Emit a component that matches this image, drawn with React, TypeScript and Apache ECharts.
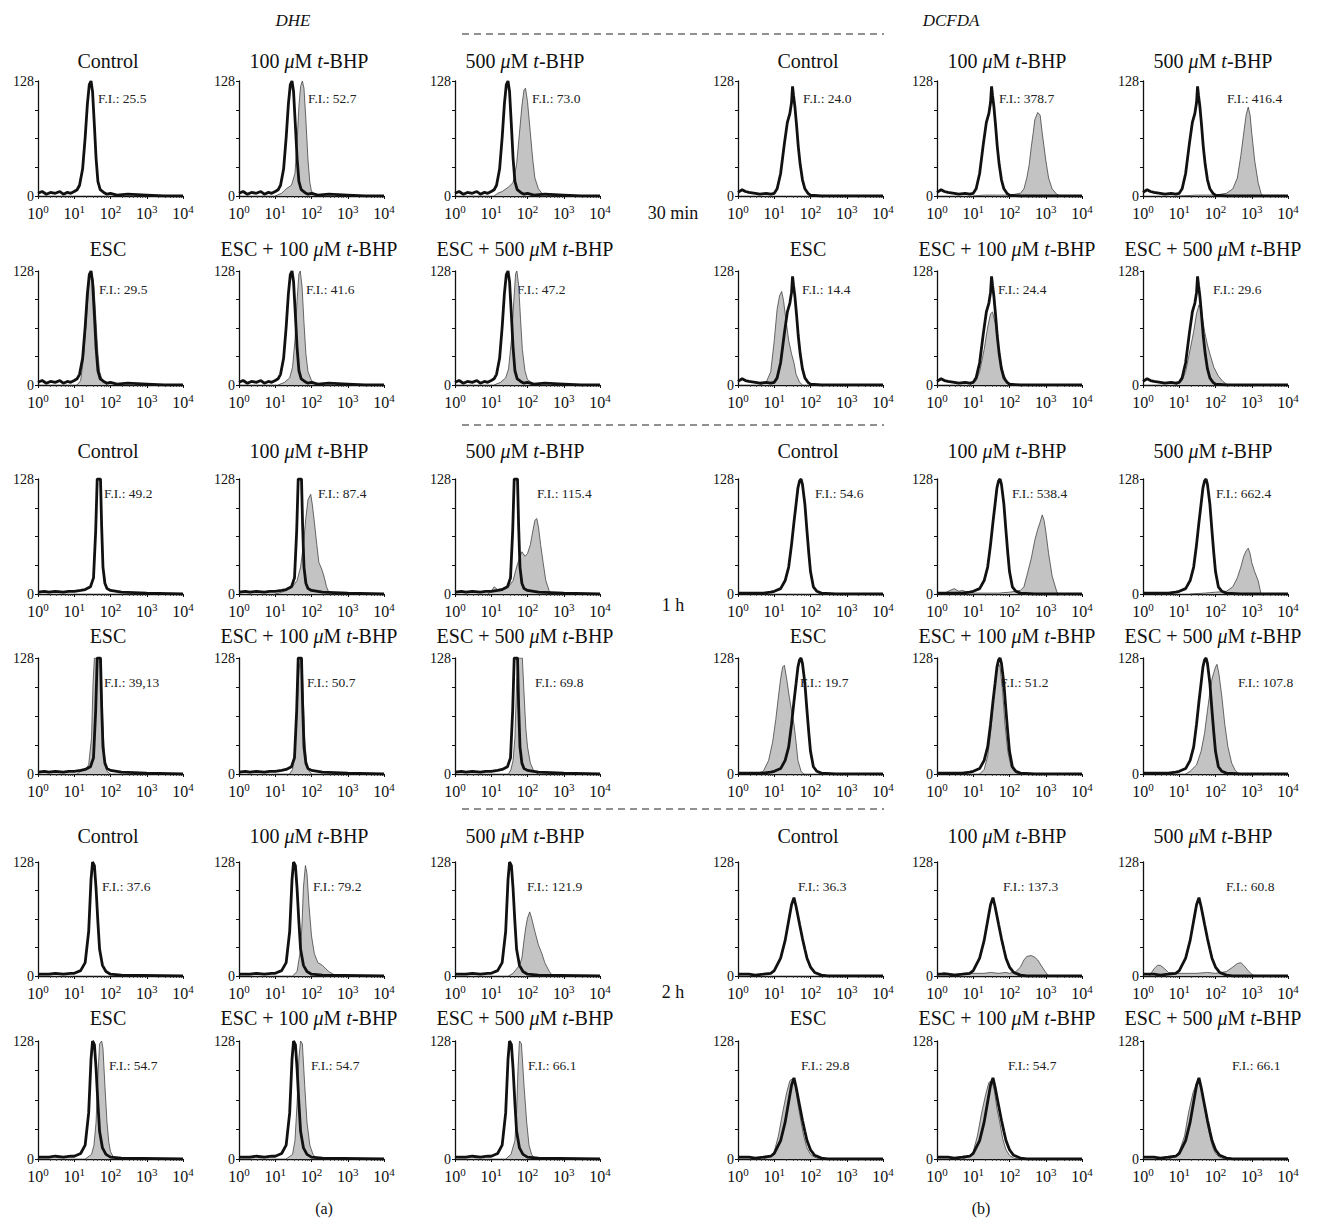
import React, { useEffect, useRef } from "react";
import * as echarts from "echarts";

// ---------- DATA ----------
const panelTitles = [
  "{n|Control}",
  "{n|100 }{i|μ}{n|M }{i|t}{n|-BHP}",
  "{n|500 }{i|μ}{n|M }{i|t}{n|-BHP}",
  "{n|ESC}",
  "{n|ESC + 100 }{i|μ}{n|M }{i|t}{n|-BHP}",
  "{n|ESC + 500 }{i|μ}{n|M }{i|t}{n|-BHP}",
];

const fiDHE30 = ["25.5", "52.7", "73.0", "29.5", "41.6", "47.2"];
const fiDCF30 = ["24.0", "378.7", "416.4", "14.4", "24.4", "29.6"];
const fiDHE1h = ["49.2", "87.4", "115.4", "39,13", "50.7", "69.8"];
const fiDCF1h = ["54.6", "538.4", "662.4", "19.7", "51.2", "107.8"];
const fiDHE2h = ["37.6", "79.2", "121.9", "54.7", "54.7", "66.1"];
const fiDCF2h = ["36.3", "137.3", "60.8", "29.8", "54.7", "66.1"];

// black (control) histograms: [fluorescence, count]
const ctrlDHE30 = [[1,3],[1.3,5],[1.7,2],[2.2,4],[3,3],[4,5],[5,2],[6.5,4],[8,3],[10,5],[12,7],[14,12],[17,30],[20,65],[23,102],[26,124],[29,128],[32,116],[36,78],[40,42],[45,16],[52,7],[65,4],[80,2],[100,3],[150,1],[300,2],[1000,1],[3000,0],[10000,0]];
const ctrlDCF30 = [[1,4],[1.3,7],[1.6,5],[2,4],[3,3],[4,2],[6,3],[8,2],[10,3],[12,8],[15,25],[19,58],[23,82],[27,92],[30,104],[32,122],[34,112],[37,100],[41,80],[46,55],[52,35],[60,18],[70,8],[85,3],[100,1],[200,0],[10000,0]];
const ctrlDHE1h = [[1,2],[1.5,3],[2,2],[3,3],[5,2],[7,3],[10,3],[15,4],[20,5],[28,8],[34,18],[39,70],[43,128],[53,128],[57,75],[62,30],[70,12],[80,6],[100,4],[200,2],[1000,1],[10000,0]];
const ctrlDCF1h = [[1,1],[3,1],[5,1],[8,2],[10,3],[15,6],[20,15],[25,30],[30,55],[35,80],[40,100],[45,118],[50,126],[55,128],[60,122],[70,100],[80,70],[90,45],[100,25],[120,8],[150,3],[200,1],[500,0],[10000,0]];
const ctrlDHE2h = [[1,2],[2,2],[3,3],[5,2],[8,3],[10,3],[15,6],[20,15],[25,50],[29,108],[32,128],[36,124],[40,98],[45,60],[50,30],[60,12],[75,5],[100,2],[200,1],[10000,0]];
const ctrlDCF2h = [[1,2],[2,2],[3,1],[5,2],[8,3],[10,6],[15,20],[20,40],[25,62],[30,80],[35,88],[40,78],[50,58],[60,42],[70,30],[80,20],[100,10],[130,4],[200,1],[300,0],[10000,0]];

// gray (treated) histograms
const dhe30_100 = [[10,0],[15,3],[20,8],[28,12],[35,25],[40,60],[45,100],[50,122],[56,128],[62,120],[70,85],[80,40],[90,15],[100,5],[130,2],[200,0]];
const dhe30_500 = [[12,0],[15,3],[20,5],[30,10],[40,15],[50,35],[60,70],[70,100],[80,118],[88,120],[100,105],[120,70],[140,40],[160,20],[200,8],[250,3],[350,1],[500,0]];
const dhe30_esc = [[12,0],[15,5],[18,30],[22,80],[26,120],[30,128],[35,110],[40,70],[45,35],[50,15],[60,5],[80,0]];
const dhe30_esc100 = [[12,0],[18,3],[25,8],[30,20],[35,50],[40,95],[45,125],[49,128],[55,110],[62,70],[70,35],[80,15],[100,5],[130,2],[180,0]];
const dhe30_esc500 = [[12,0],[18,3],[25,8],[30,18],[36,50],[42,95],[47,125],[51,128],[57,112],[64,75],[72,40],[85,16],[100,6],[140,2],[200,0]];

const dcf30_100 = [[10,0],[20,1],[50,1],[100,1],[200,3],[250,8],[300,20],[350,35],[400,55],[450,70],[500,85],[600,93],[700,90],[800,70],[1000,40],[1200,20],[1500,8],[2000,2],[2500,0]];
const dcf30_500 = [[10,0],[30,1],[100,1],[200,3],[300,8],[400,20],[500,45],[600,70],[700,90],[800,99],[900,90],[1000,70],[1200,40],[1500,15],[1800,3],[2000,0]];
const dcf30_esc = [[4,0],[6,3],[8,15],[10,50],[12,85],[14,100],[16,105],[18,95],[20,80],[25,50],[30,35],[35,25],[40,12],[50,3],[60,0]];
const dcf30_esc100 = [[8,0],[12,5],[15,15],[20,40],[25,65],[30,80],[34,82],[40,70],[50,40],[60,22],[70,12],[80,6],[100,2],[130,0]];
const dcf30_esc500 = [[8,0],[12,5],[15,15],[20,40],[25,60],[30,80],[35,90],[40,85],[50,60],[60,45],[70,35],[90,20],[120,10],[160,4],[200,1],[250,0]];

const dhe1h_100 = [[10,0],[15,2],[20,4],[30,8],[40,15],[50,30],[60,55],[70,85],[80,105],[95,111],[105,100],[120,80],[140,55],[160,35],[190,28],[220,20],[260,8],[300,2],[400,0]];
const dhe1h_500 = [[8,0],[10,3],[12,8],[15,5],[20,6],[30,8],[40,15],[50,30],[60,40],[70,47],[85,42],[100,45],[120,55],[140,70],[160,82],[180,84],[200,75],[230,55],[270,35],[320,15],[400,3],[500,0]];
const dhe1h_esc = [[12,0],[15,3],[20,5],[25,10],[30,40],[33,100],[36,128],[50,128],[55,110],[62,50],[70,12],[80,3],[100,0]];
const dhe1h_esc100 = [[25,0],[30,5],[35,25],[40,70],[45,115],[50,128],[55,120],[60,80],[65,40],[72,15],[80,5],[100,0]];
const dhe1h_esc500 = [[30,0],[35,5],[40,15],[45,40],[50,100],[55,128],[72,128],[80,90],[90,50],[100,30],[120,12],[150,3],[200,0]];

const dcf1h_100 = [[1.5,0],[2,3],[3,6],[4,3],[5,4],[7,2],[10,1],[50,1],[100,2],[200,4],[250,8],[300,20],[400,40],[500,60],[600,72],[700,80],[800,88],[900,82],[1000,70],[1200,45],[1500,20],[2000,3],[2200,0]];
const dcf1h_500 = [[20,0],[50,1],[100,2],[200,3],[300,8],[400,18],[500,30],[600,42],[700,48],[800,51],[900,45],[1000,35],[1200,25],[1500,15],[1700,5],[1800,0]];
const dcf1h_esc = [[3,0],[5,3],[7,15],[9,35],[11,60],[13,85],[15,105],[17,118],[19,120],[22,105],[26,85],[30,70],[35,55],[40,35],[45,15],[55,3],[65,0]];
const dcf1h_esc100 = [[15,0],[20,5],[25,20],[30,45],[35,75],[40,100],[45,118],[50,122],[55,118],[65,90],[75,55],[90,25],[110,8],[140,2],[180,0]];
const dcf1h_esc500 = [[15,0],[20,3],[30,10],[40,25],[50,45],[60,70],[70,90],[80,105],[90,112],[100,118],[110,121],[125,110],[150,85],[180,55],[220,30],[280,12],[350,4],[450,0]];

const dhe2h_100 = [[30,0],[40,5],[50,30],[55,60],[60,100],[68,124],[75,115],[85,80],[100,45],[120,25],[150,15],[200,12],[250,8],[300,5],[400,2],[500,0]];
const dhe2h_500 = [[30,0],[40,3],[50,8],[60,12],[70,20],[80,40],[90,55],[100,65],[115,72],[130,65],[160,50],[200,35],[250,25],[300,15],[400,5],[500,0]];
const dhe2h_esc = [[20,0],[30,5],[35,15],[40,40],[45,90],[50,125],[57,128],[62,120],[70,80],[80,40],[90,18],[100,8],[120,2],[150,0]];
const dhe2h_esc100 = [[20,0],[30,5],[35,20],[40,60],[45,110],[50,128],[56,125],[65,80],[75,40],[90,15],[110,5],[140,0]];
const dhe2h_esc500 = [[25,0],[35,5],[45,20],[50,50],[55,100],[60,128],[68,125],[80,80],[95,40],[110,15],[130,5],[160,0]];

const dcf2h_100 = [[1,0],[1.5,4],[2,3],[3,2],[5,2],[10,3],[20,3],[30,4],[50,3],[80,4],[100,3],[150,5],[200,10],[250,18],[300,22],[400,23],[500,21],[600,18],[800,10],[1000,4],[1200,0]];
const dcf2h_500 = [[1.5,0],[2,8],[2.5,12],[3,12],[4,8],[5,4],[8,3],[15,3],[30,3],[60,4],[100,3],[200,5],[300,10],[400,14],[500,15],[600,12],[800,6],[1000,2],[1200,0]];
const dcf2h_esc = [[5,0],[8,3],[10,8],[13,25],[17,50],[22,72],[27,85],[32,87],[38,80],[45,60],[55,40],[65,25],[80,12],[100,5],[130,2],[180,0]];
const dcf2h_esc100 = [[5,0],[8,3],[10,8],[13,25],[17,50],[22,70],[27,83],[32,85],[38,75],[45,55],[55,38],[65,22],[80,10],[100,4],[130,1],[180,0]];
const dcf2h_esc500 = [[5,0],[8,3],[10,8],[14,25],[18,50],[24,72],[30,82],[35,85],[40,80],[48,60],[58,40],[70,25],[85,12],[100,6],[130,2],[180,0]];

// blocks: time index, probe index, control curve, treated curves, F.I. labels
const blocks = [
  { t: 0, p: 0, ctrl: ctrlDHE30, gray: [null, dhe30_100, dhe30_500, dhe30_esc, dhe30_esc100, dhe30_esc500], fi: fiDHE30 },
  { t: 0, p: 1, ctrl: ctrlDCF30, gray: [null, dcf30_100, dcf30_500, dcf30_esc, dcf30_esc100, dcf30_esc500], fi: fiDCF30 },
  { t: 1, p: 0, ctrl: ctrlDHE1h, gray: [null, dhe1h_100, dhe1h_500, dhe1h_esc, dhe1h_esc100, dhe1h_esc500], fi: fiDHE1h },
  { t: 1, p: 1, ctrl: ctrlDCF1h, gray: [null, dcf1h_100, dcf1h_500, dcf1h_esc, dcf1h_esc100, dcf1h_esc500], fi: fiDCF1h },
  { t: 2, p: 0, ctrl: ctrlDHE2h, gray: [null, dhe2h_100, dhe2h_500, dhe2h_esc, dhe2h_esc100, dhe2h_esc500], fi: fiDHE2h },
  { t: 2, p: 1, ctrl: ctrlDCF2h, gray: [null, dcf2h_100, dcf2h_500, dcf2h_esc, dcf2h_esc100, dcf2h_esc500], fi: fiDCF2h },
];

// ---------- LAYOUT ----------
const colLeft = [38, 239, 455, 738, 937, 1143];
const rowTop = [81, 271, 479, 658, 862, 1041];
const rowHeight = [115, 114, 115, 116, 114, 118];
const plotWidth = 145;
const titleY = [61, 249, 451, 636, 836, 1018];
const fiY = [98, 289, 493, 682, 886, 1065];
const fiX = [
  [98, 308, 532, 803, 999, 1227],
  [99, 306, 517, 802, 998, 1213],
  [104, 318, 537, 815, 1012, 1216],
  [104, 307, 535, 800, 1000, 1238],
  [102, 313, 527, 798, 1003, 1226],
  [109, 311, 528, 801, 1008, 1232],
];

const SERIF = "'Liberation Serif', 'DejaVu Serif', serif";

function buildOption() {
  const grid: any[] = [];
  const xAxis: any[] = [];
  const yAxis: any[] = [];
  const series: any[] = [];
  const graphic: any[] = [];

  const titleRich = {
    n: { fontFamily: SERIF, fontSize: 20, fill: "#111" },
    i: { fontFamily: SERIF, fontSize: 20, fontStyle: "italic", fill: "#111" },
  };

  let idx = 0;
  blocks.forEach((b) => {
    for (let j = 0; j < 6; j++) {
      const row = b.t * 2 + Math.floor(j / 3);
      const col = b.p * 3 + (j % 3);
      grid.push({ left: colLeft[col], top: rowTop[row], width: plotWidth, height: rowHeight[row] });
      xAxis.push({
        type: "log",
        logBase: 10,
        gridIndex: idx,
        min: 1,
        max: 10000,
        axisLine: { show: true, lineStyle: { color: "#111", width: 1.3 } },
        axisTick: { show: true, length: 3, lineStyle: { color: "#111" } },
        minorTick: { show: true, splitNumber: 8, length: 2, lineStyle: { color: "#333", width: 0.8 } },
        splitLine: { show: false },
        axisLabel: {
          margin: 7,
          formatter: (v: number) => `{b|10}{s|${Math.round(Math.log10(v))}}`,
          rich: {
            b: { fontFamily: SERIF, fontSize: 16, color: "#111", lineHeight: 20 },
            s: { fontFamily: SERIF, fontSize: 11, color: "#111", lineHeight: 8, verticalAlign: "top" },
          },
        },
      });
      yAxis.push({
        type: "value",
        gridIndex: idx,
        min: 0,
        max: 128,
        interval: 32,
        axisLine: { show: true, lineStyle: { color: "#111", width: 1.3 } },
        axisTick: { show: true, length: 3, lineStyle: { color: "#111" } },
        splitLine: { show: false },
        axisLabel: {
          margin: 4,
          fontFamily: SERIF,
          fontSize: 14,
          color: "#111",
          formatter: (v: number) => (v === 0 || v === 128 ? String(v) : ""),
        },
      });
      const g = b.gray[j];
      if (g) {
        series.push({
          type: "line",
          xAxisIndex: idx,
          yAxisIndex: idx,
          data: g,
          showSymbol: false,
          silent: true,
          lineStyle: { color: "#444", width: 0.8 },
          areaStyle: { color: "#c3c3c3", opacity: 1 },
          z: 2,
        });
      }
      series.push({
        type: "line",
        xAxisIndex: idx,
        yAxisIndex: idx,
        data: b.ctrl,
        showSymbol: false,
        silent: true,
        lineStyle: { color: "#111", width: 2.8 },
        z: 3,
      });
      graphic.push({
        type: "text",
        x: colLeft[col] + 70,
        y: titleY[row],
        style: { text: panelTitles[j], rich: titleRich, align: "center", verticalAlign: "middle" },
      });
      graphic.push({
        type: "text",
        x: fiX[row][col],
        y: fiY[row],
        style: {
          text: "F.I.: " + b.fi[j],
          fontFamily: SERIF,
          fontSize: 13.5,
          fill: "#222",
          align: "left",
          verticalAlign: "middle",
        },
      });
      idx++;
    }
  });

  const labelStyle = (txt: string, italic = false, size = 18) => ({
    text: txt,
    fontFamily: SERIF,
    fontSize: size,
    fontStyle: italic ? "italic" : "normal",
    fill: "#111",
    align: "center",
    verticalAlign: "middle",
  });
  graphic.push({ type: "text", x: 293, y: 20, style: labelStyle("DHE", true, 17) });
  graphic.push({ type: "text", x: 951, y: 20, style: labelStyle("DCFDA", true, 17) });
  graphic.push({ type: "text", x: 673, y: 213, style: labelStyle("30 min") });
  graphic.push({ type: "text", x: 673, y: 605, style: labelStyle("1 h") });
  graphic.push({ type: "text", x: 673, y: 992, style: labelStyle("2 h") });
  graphic.push({ type: "text", x: 324, y: 1208, style: labelStyle("(a)", false, 16) });
  graphic.push({ type: "text", x: 981, y: 1208, style: labelStyle("(b)", false, 16) });
  [34, 425, 809].forEach((y) => {
    graphic.push({
      type: "line",
      shape: { x1: 462, y1: y, x2: 884, y2: y },
      style: { stroke: "#222", lineWidth: 1, lineDash: [7, 5] },
    });
  });

  return {
    animation: false,
    backgroundColor: "#ffffff",
    grid,
    xAxis,
    yAxis,
    series,
    graphic,
  };
}

export default function App() {
  const ref = useRef<HTMLDivElement>(null);
  useEffect(() => {
    document.body.style.margin = "0";
    if (!ref.current) return;
    const chart = echarts.init(ref.current, undefined, { renderer: "svg" });
    chart.setOption(buildOption() as any);
    return () => chart.dispose();
  }, []);
  return <div ref={ref} style={{ width: 1325, height: 1223, background: "#fff" }} />;
}
